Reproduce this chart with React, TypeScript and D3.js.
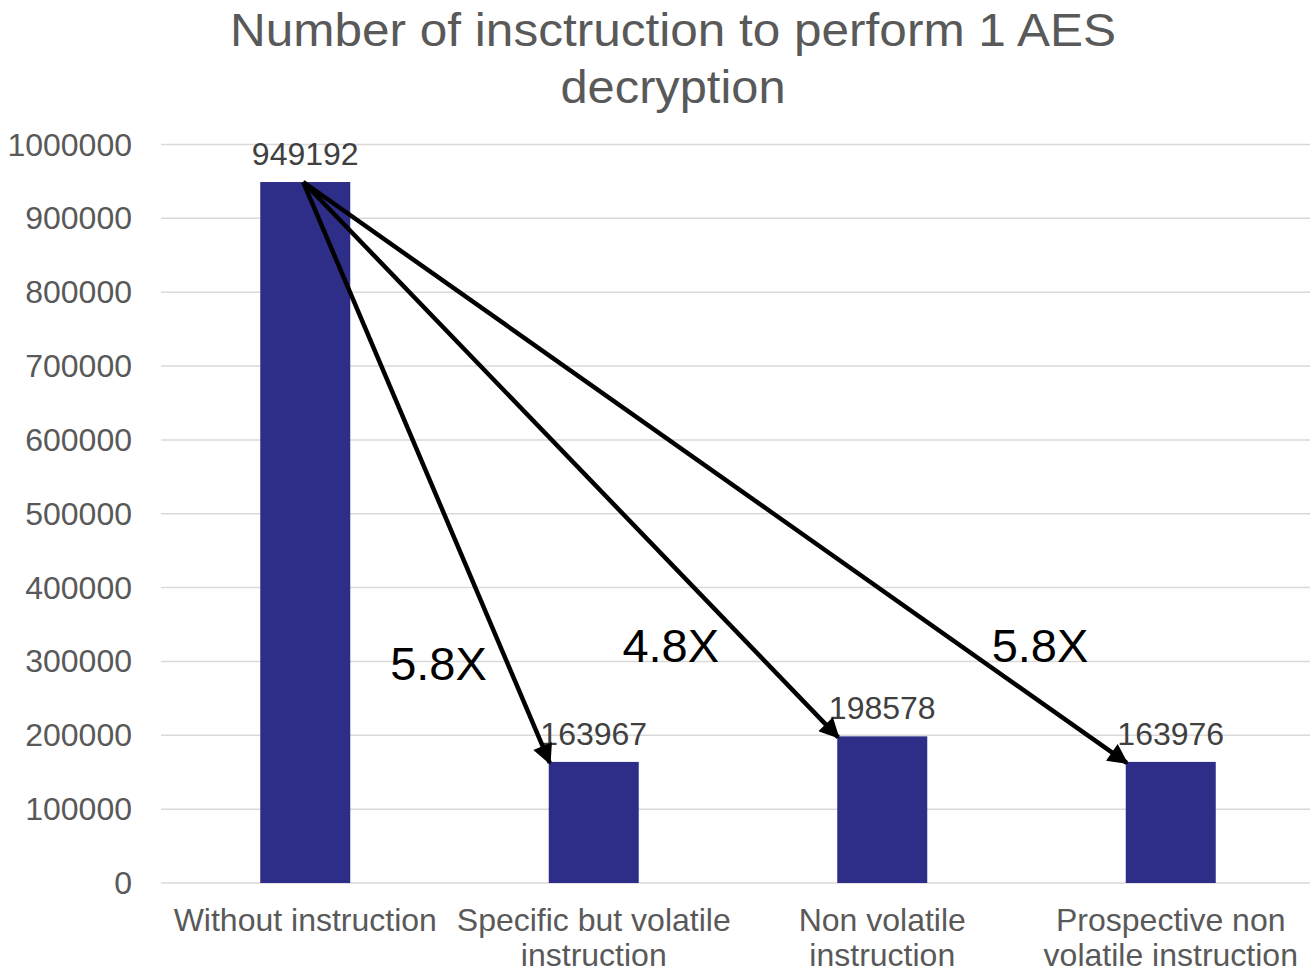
import React from "react";
import * as d3 from "d3";

const categories = [
  "Without instruction",
  "Specific but volatile\ninstruction",
  "Non volatile\ninstruction",
  "Prospective non\nvolatile instruction",
];
const values = [949192, 163967, 198578, 163976];
const yTicks = [0, 100000, 200000, 300000, 400000, 500000, 600000, 700000, 800000, 900000, 1000000];
const speedupLabels = ["5.8X", "4.8X", "5.8X"];
const titleLines = ["Number of insctruction to perform 1 AES", "decryption"];

const W = 1310;
const H = 973;
const FONT = "'Liberation Sans', Arial, sans-serif";
const BAR = "#2E2E88";
const TEXT = "#595959";

export default function App() {
  const x = d3
    .scaleBand<string>()
    .domain(categories)
    .range([161, 1315])
    .paddingInner(0.688)
    .paddingOuter(0.344);
  const y = d3.scaleLinear().domain([0, 1000000]).range([883, 144.5]);

  const bw = x.bandwidth();
  const srcX = (x(categories[0]) as number) + bw / 2 - 2;
  const srcY = y(values[0]);

  const titleWidths = [886, 225];

  return (
    <svg width={W} height={H} style={{ display: "block", position: "absolute", left: 0, top: 0 }} fontFamily={FONT}>
      <defs>
        <marker id="arrowhead" viewBox="0 0 10 10" refX="9" refY="5" markerWidth="5" markerHeight="4.5" orient="auto" markerUnits="strokeWidth">
          <path d="M0,0 L10,5 L0,10 z" fill="#000" />
        </marker>
      </defs>
      <rect width={W} height={H} fill="#fff" />
      {titleLines.map((t, i) => (
        <text
          key={i}
          x={673}
          y={46 + i * 57}
          textAnchor="middle"
          fontSize={46}
          fill={TEXT}
          textLength={titleWidths[i]}
          lengthAdjust="spacingAndGlyphs"
        >
          {t}
        </text>
      ))}
      {yTicks.map((t) => (
        <g key={t}>
          <line x1={161} x2={1310} y1={y(t)} y2={y(t)} stroke="#D9D9D9" strokeWidth={1.5} />
          <text x={132} y={y(t) + 11} textAnchor="end" fontSize={32} fill={TEXT}>
            {t}
          </text>
        </g>
      ))}
      {categories.map((c, i) => {
        const cx = (x(c) as number) + bw / 2;
        return (
          <g key={c}>
            <rect x={x(c)} y={y(values[i])} width={bw} height={y(0) - y(values[i])} fill={BAR} />
            <text x={cx} y={y(values[i]) - 17} textAnchor="middle" fontSize={32} fill="#404040">
              {values[i]}
            </text>
            {c.split("\n").map((line, j) => (
              <text key={j} x={cx} y={931 + j * 35} textAnchor="middle" fontSize={32} fill={TEXT}>
                {line}
              </text>
            ))}
          </g>
        );
      })}
      {values.slice(1).map((v, i) => {
        const c = categories[i + 1];
        const tx = (x(c) as number) + 1;
        const ty = y(v) + 1;
        const mx = (srcX + tx) / 2;
        const my = (srcY + ty) / 2;
        return (
          <g key={i}>
            <line x1={srcX} y1={srcY} x2={tx} y2={ty} stroke="#000" strokeWidth={4.5} markerEnd="url(#arrowhead)" />
            <text
              x={mx + (i === 0 ? 12 : i === 1 ? 100 : 325)}
              y={my + (i === 0 ? 208 : i === 1 ? 202 : 190)}
              textAnchor="middle"
              fontSize={47}
              fill="#000"
            >
              {speedupLabels[i]}
            </text>
          </g>
        );
      })}
    </svg>
  );
}
